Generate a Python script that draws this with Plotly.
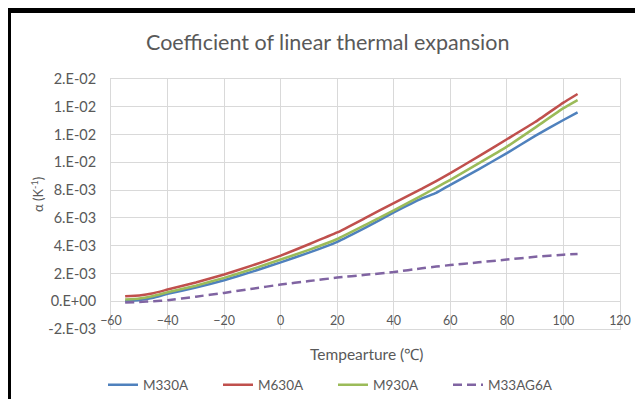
import plotly.graph_objects as go

# temperature points (degC)
temps = [-55, -50, -45, -40, -30, -20, -10, 0, 10, 20, 30, 40, 50, 55, 60, 70, 80, 90, 100, 105]

m330a = [0.0, 0.00008, 0.00025, 0.00053, 0.00098, 0.00151, 0.00213, 0.0028, 0.0035, 0.00428,
         0.0053, 0.00639, 0.0074, 0.0078, 0.00838, 0.0095, 0.01066, 0.0119, 0.01305, 0.0136]
m630a = [0.00036, 0.00042, 0.00058, 0.00084, 0.00135, 0.00192, 0.00258, 0.00328, 0.0041, 0.00495,
         0.0060, 0.00707, 0.0081, 0.00865, 0.00922, 0.01043, 0.01166, 0.0129, 0.0143, 0.01492]
m930a = [0.00012, 0.0002, 0.00038, 0.00065, 0.00112, 0.00168, 0.00232, 0.0030, 0.0037, 0.00448,
         0.0055, 0.00654, 0.00762, 0.00818, 0.00874, 0.00992, 0.01113, 0.0125, 0.0139, 0.01448]
m33ag6a = [-0.0001, -0.00005, 0.0, 0.00007, 0.00033, 0.0006, 0.0009, 0.0012, 0.00145, 0.0017,
           0.0019, 0.0021, 0.00237, 0.0025, 0.0026, 0.0028, 0.0030, 0.0032, 0.00335, 0.0034]

y_ticks = [-0.002, 0.0, 0.002, 0.004, 0.006, 0.008, 0.010, 0.012, 0.014, 0.016]
y_labels = ["-2.E-03", "0.E+00", "2.E-03", "4.E-03", "6.E-03", "8.E-03",
            "1.E-02", "1.E-02", "1.E-02", "2.E-02"]
x_ticks = [-60, -40, -20, 0, 20, 40, 60, 80, 100, 120]

GREY = "#595959"
GRID = "#d9d9d9"
FONT = "Lato"

# the page body has an 8px margin, so shrink the figure to avoid scrollbars
OFF = 8
W, H = 643 - 2 * OFF, 407 - 2 * OFF
# plot area in screen pixels (left, right, top, bottom)
L, R, T, B = 111, 620, 79, 329


def px2x(px):
    return (px - L) / (R - L)


def px2y(py):
    return (B - py) / (B - T)


fig = go.Figure()
series = [("M330A", m330a, "#4F81BD", "solid"),
          ("M630A", m630a, "#C0504D", "solid"),
          ("M930A", m930a, "#9BBB59", "solid"),
          ("M33AG6A", m33ag6a, "#8064A2", "9px,5px")]
for name, vals, col, dash in series:
    fig.add_trace(go.Scatter(x=temps, y=vals, name=name, mode="lines",
                             line=dict(color=col, width=2.5, dash=dash, shape="spline", smoothing=0.3)))

fig.update_layout(
    width=W, height=H,
    margin=dict(l=L - OFF, r=W - (R - OFF), t=T - OFF, b=H - (B - OFF), autoexpand=False),
    paper_bgcolor="white", plot_bgcolor="white",
    font=dict(family=FONT, size=12, color=GREY),
    showlegend=True,
    legend=dict(orientation="h", xref="container", yref="container",
                x=(333 - OFF) / W, xanchor="center", y=1 - (385 - OFF) / H, yanchor="middle",
                font=dict(size=13.5, color=GREY), entrywidth=70, traceorder="normal"),
    xaxis=dict(range=[-60, 120], tickvals=x_ticks, showgrid=True, gridcolor=GRID, gridwidth=1,
               zeroline=False, showline=True, linecolor=GRID, mirror=True, automargin=False,
               ticks="", ticklabelstandoff=-20, tickfont=dict(size=12.5, color=GREY)),
    yaxis=dict(range=[-0.002, 0.016], tickvals=y_ticks, ticktext=y_labels, showgrid=True,
               gridcolor=GRID, gridwidth=1, zeroline=False, showline=True, linecolor=GRID,
               mirror=True, automargin=False, ticks="", ticklabelstandoff=11,
               tickfont=dict(size=14.5, color=GREY)),
    annotations=[
        dict(text="Coefficient of linear thermal expansion", x=px2x(327), y=px2y(42),
             xref="paper", yref="paper", showarrow=False, xanchor="center", yanchor="middle",
             font=dict(size=21.5, color=GREY)),
        dict(text="Tempearture (℃)", x=px2x(366), y=px2y(354), xref="paper", yref="paper",
             showarrow=False, xanchor="center", yanchor="middle", font=dict(size=15.5, color=GREY)),
        dict(text="α (K<sup>-1</sup>)", x=px2x(37), y=px2y(195), xref="paper", yref="paper",
             showarrow=False, xanchor="center", yanchor="middle", textangle=-90,
             font=dict(size=13, color=GREY)),
    ],
    shapes=[
        # black selection bands at top and left
        dict(type="rect", xref="paper", yref="paper", x0=px2x(5), x1=px2x(643), y0=px2y(13), y1=px2y(8),
             line=dict(width=0), fillcolor="black"),
        dict(type="rect", xref="paper", yref="paper", x0=px2x(5), x1=px2x(11), y0=px2y(407), y1=px2y(8),
             line=dict(width=0), fillcolor="black"),
    ],
)

fig.write_html("out.html")
